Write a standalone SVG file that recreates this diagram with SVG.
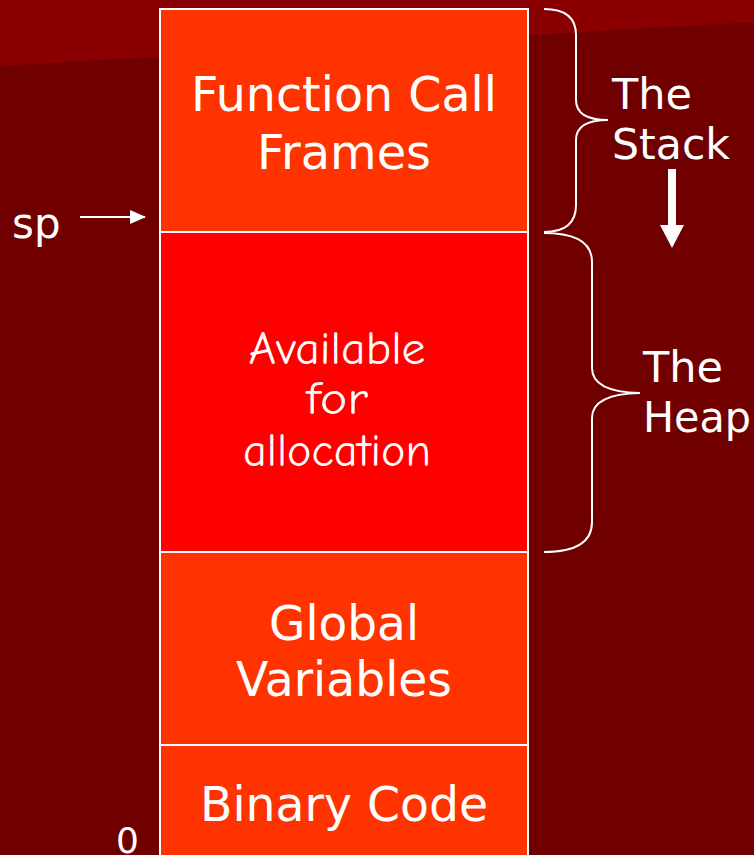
<svg xmlns="http://www.w3.org/2000/svg" width="754" height="855" viewBox="0 0 754 855">
<defs>
<style>
.t{font-family:"DejaVu Sans","Verdana",sans-serif;fill:#fff}
.c{font-family:"Comic Sans MS","Comic Neue","DejaVu Sans",cursive;fill:#fff}
.box{stroke:#fff;stroke-width:2}
.br{fill:none;stroke:#fff;stroke-width:2}
</style>
<marker id="ah" markerWidth="16" markerHeight="14" refX="15" refY="7" orient="auto" markerUnits="userSpaceOnUse">
<path d="M0,0 L16,7 L0,14 z" fill="#fff"/>
</marker>
</defs>
<rect x="0" y="0" width="754" height="855" fill="#700000"/>
<polygon points="0,0 754,0 754,22 0,66" fill="#8a0000"/>
<g id="stack-frames">
<rect class="box" x="160" y="9" width="368" height="223" fill="#ff3300"/>
<text class="t" x="344" y="111" font-size="48" text-anchor="middle" textLength="306" lengthAdjust="spacingAndGlyphs">Function Call</text>
<text class="t" x="344" y="169" font-size="48" text-anchor="middle" textLength="174" lengthAdjust="spacingAndGlyphs">Frames</text>
</g>
<g id="available">
<rect class="box" x="160" y="232" width="368" height="320" fill="#ff0000"/>
<text class="c" x="337" y="364" font-size="46" text-anchor="middle" textLength="177" lengthAdjust="spacingAndGlyphs">Available</text>
<text class="c" x="337" y="414" font-size="46" text-anchor="middle" textLength="62" lengthAdjust="spacingAndGlyphs">for</text>
<text class="c" x="337" y="466" font-size="46" text-anchor="middle" textLength="188" lengthAdjust="spacingAndGlyphs">allocation</text>
</g>
<g id="globals">
<rect class="box" x="160" y="552" width="368" height="193" fill="#ff3300"/>
<text class="t" x="344" y="640" font-size="48" text-anchor="middle" textLength="150" lengthAdjust="spacingAndGlyphs">Global</text>
<text class="t" x="344" y="696" font-size="48" text-anchor="middle" textLength="216" lengthAdjust="spacingAndGlyphs">Variables</text>
</g>
<g id="binary">
<rect class="box" x="160" y="745" width="368" height="120" fill="#ff3300"/>
<text class="t" x="344" y="821" font-size="48" text-anchor="middle" textLength="288" lengthAdjust="spacingAndGlyphs">Binary Code</text>
</g>
<g id="sp-label">
<text class="t" x="12" y="238" font-size="42">sp</text>
<text class="t" x="116" y="853" font-size="36">0</text>
</g>
<g id="stack-label">
<text class="t" x="612" y="109" font-size="43">The</text>
<text class="t" x="612" y="159" font-size="43" textLength="118" lengthAdjust="spacingAndGlyphs">Stack</text>
<rect x="668" y="169" width="8" height="57" fill="#fff"/>
<polygon points="660,225 684,225 672,248" fill="#fff"/>
</g>
<g id="heap-label">
<text class="t" x="643" y="382" font-size="43">The</text>
<text class="t" x="643" y="432" font-size="43" textLength="108" lengthAdjust="spacingAndGlyphs">Heap</text>
</g>
<g id="connectors">
<line x1="80" y1="217" x2="145" y2="217" stroke="#fff" stroke-width="2" marker-end="url(#ah)"/>
<path class="br" d="M544,9 Q576,9 576,35 L576,100 Q576,120 608,120 Q576,120 576,140 L576,205 Q576,232 544,232"/>
<path class="br" d="M544,233 Q592,233 592,262 L592,368 Q592,392 640,393 Q592,394 592,418 L592,522 Q592,552 544,552"/>
</g>
</svg>
